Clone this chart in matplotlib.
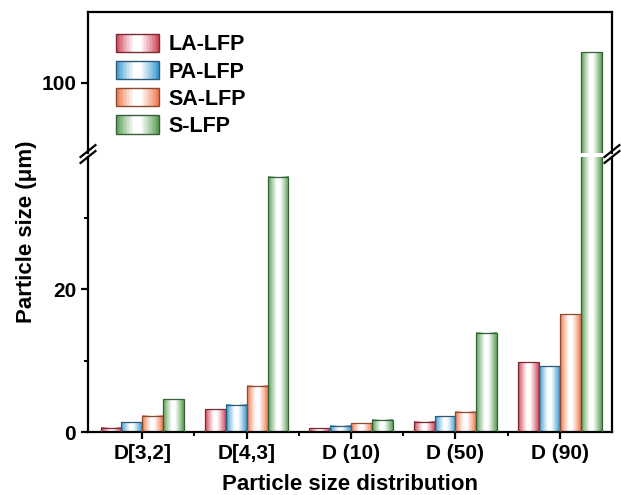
import numpy as np
import matplotlib.pyplot as plt
from matplotlib.patches import Rectangle
from matplotlib.legend_handler import HandlerBase
from matplotlib.colors import to_rgb

plt.rcParams['font.family'] = ['Liberation Sans', 'DejaVu Sans']
plt.rcParams['font.weight'] = 'bold'

# Particle size data (um)
categories = ['D[3,2]', 'D[4,3]', 'D (10)', 'D (50)', 'D (90)']
samples = ['LA-LFP', 'PA-LFP', 'SA-LFP', 'S-LFP']
la_lfp = [0.6, 3.2, 0.5, 1.45, 9.75]
pa_lfp = [1.35, 3.8, 0.9, 2.2, 9.2]
sa_lfp = [2.3, 6.5, 1.2, 2.85, 16.5]
s_lfp = [4.6, 35.7, 1.7, 13.9, 104.3]

series = [la_lfp, pa_lfp, sa_lfp, s_lfp]
colors = ['#d4475a', '#3a9bd0', '#ef7a4f', '#5a9e55']
edges = ['#7a2a33', '#2a5a78', '#8a4a30', '#34603a']

width = 0.2
x = np.arange(1, len(categories) + 1)


def gradient(color, n=64):
    # colour at both sides, white band in the middle
    t = np.abs(np.linspace(-1, 1, n))
    w = np.clip((t - 0.15) / 0.85, 0, 1) ** 1.1
    c = np.array(to_rgb(color))
    row = (1 - w)[:, None] * np.ones(3) + w[:, None] * c
    return row[None, :, :]


class GradientHandler(HandlerBase):
    def __init__(self, color, edge):
        super().__init__()
        self.color = color
        self.edge = edge

    def create_artists(self, legend, orig_handle, xdescent, ydescent,
                       width, height, fontsize, trans):
        arts = []
        n = 30
        g = gradient(self.color, n)[0]
        for i in range(n):
            r = Rectangle((-xdescent + width * i / n, -ydescent), width / n + 0.3, height,
                          facecolor=g[i], edgecolor='none', transform=trans)
            arts.append(r)
        arts.append(Rectangle((-xdescent, -ydescent), width, height, facecolor='none',
                              edgecolor=self.edge, lw=1.0, transform=trans))
        return arts


fig = plt.figure(figsize=(6.21, 4.95), dpi=100)
left, right = 88 / 621, 612 / 621
ax_lo = fig.add_axes([left, 1 - 432 / 495, right - left, (432 - 157) / 495])
ax_hi = fig.add_axes([left, 1 - 153 / 495, right - left, (153 - 12) / 495])

lo_lim = (0, 38.5)
hi_lim = (90.2, 109.9)

for ax, lim in [(ax_lo, lo_lim), (ax_hi, hi_lim)]:
    for k, vals in enumerate(series):
        bars = ax.bar(x + (k - 1.5) * width, vals, width, facecolor='none',
                      edgecolor=edges[k], lw=0.9, zorder=3)
        for b in bars:
            bx, top = b.get_x(), b.get_height()
            y0, y1 = max(0, lim[0]), min(top, lim[1])
            if y1 <= y0:
                continue
            ax.imshow(gradient(colors[k]), extent=(bx, bx + b.get_width(), y0, y1),
                      aspect='auto', interpolation='bilinear', zorder=2)
    ax.set_xlim(0.48, 5.5)
    ax.set_ylim(*lim)
    for s in ax.spines.values():
        s.set_linewidth(1.6)
    ax.tick_params(axis='both', direction='out', width=1.6, length=5, labelsize=15)
    ax.tick_params(which='minor', direction='out', width=1.4, length=3)
    ax.tick_params(right=False, top=False)

ax_lo.spines['top'].set_visible(False)
ax_hi.spines['bottom'].set_visible(False)
ax_hi.set_xticks([])
ax_hi.set_yticks([100])
ax_lo.set_yticks([0, 20])
ax_lo.set_yticks([10, 30], minor=True)
ax_lo.set_xticks(x)
ax_lo.set_xticks(x[:-1] + 0.5, minor=True)
ax_lo.set_xticklabels(categories)

# break marks on both spines
d = 0.012
for xs in (0, 1):
    for dy in (-0.004, 0.008):
        fig.add_artist(plt.Line2D([xs * (right - left) + left - d, xs * (right - left) + left + d],
                                  [1 - 155 / 495 + dy - 0.012, 1 - 155 / 495 + dy + 0.012],
                                  color='black', lw=1.6, transform=fig.transFigure))

ax_lo.set_xlabel('Particle size distribution', fontsize=16, fontweight='bold', labelpad=8)
fig.text(0.042, 1 - 232 / 495, 'Particle size (μm)', rotation=90, ha='center', va='center',
         fontsize=16, fontweight='bold')

handles = [Rectangle((0, 0), 1, 1) for _ in samples]
fig.legend(handles, samples, loc='upper left', bbox_to_anchor=(105 / 621, 1 - 23 / 495),
           bbox_transform=fig.transFigure, frameon=False, borderpad=0,
           fontsize=15.5, handlelength=2.0, handleheight=0.95, labelspacing=0.25, handletextpad=0.45,
           handler_map={h: GradientHandler(c, e) for h, c, e in zip(handles, colors, edges)})

fig.savefig('out.png', dpi=100)
